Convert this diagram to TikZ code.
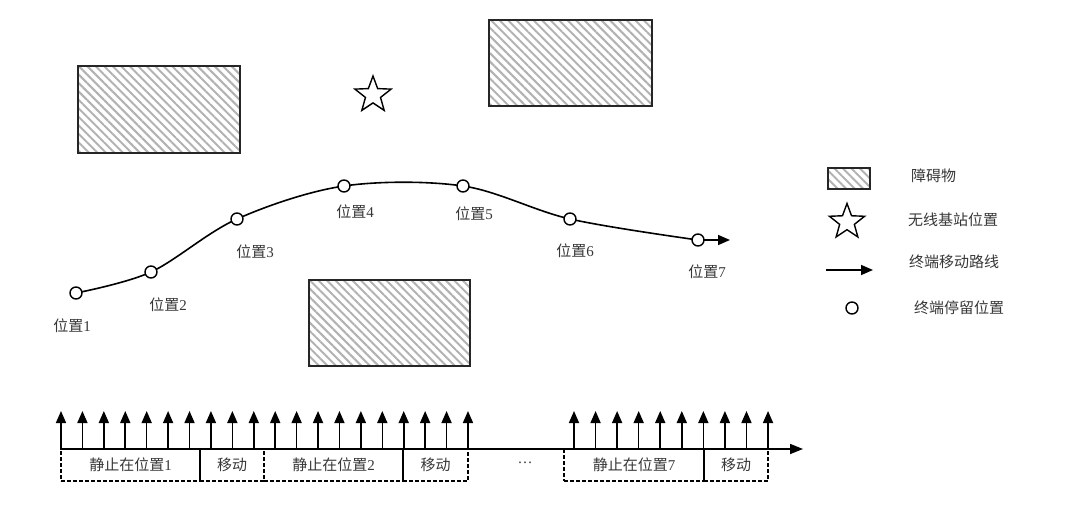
\documentclass[tikz,border=0pt]{standalone}
\usepackage{fontspec}
\setmainfont{Liberation Serif}
\newfontfamily\cjk{Noto Sans CJK SC}
\usepackage{tikz}
\usetikzlibrary{arrows.meta,positioning,shapes.geometric,patterns.meta}
\definecolor{txtgray}{RGB}{55,55,55}

\begin{document}
\begin{tikzpicture}[x=1pt, y=-1pt, font=\fontsize{15}{17}\selectfont]
    \tikzstyle{obst}=[draw=black!85, line width=1.6pt, inner sep=0pt, pattern={Lines[angle=-45, distance=6pt, line width=2pt]}, pattern color=black!30]
    \tikzstyle{stop}=[draw, circle, line width=1.4pt, fill=white, inner sep=0pt, minimum size=12pt]
    \tikzstyle{bs}=[draw, star, star points=5, star point ratio=2.4, line width=1.4pt, inner sep=0pt, minimum size=38pt]
    \tikzstyle{lbl}=[text=txtgray, inner sep=1pt]
    \tikzstyle{seg}=[draw, dash pattern=on 4pt off 2pt, line width=1.2pt, outer sep=0pt, minimum height=32pt, text=txtgray, inner sep=0pt]
    \tikzstyle{tick}=[line width=1.6pt, -{Triangle[length=12pt, width=10pt]}]
    \useasboundingbox (0,0) rectangle (1080,505);

    % obstacles and base station
    \node[obst, minimum width=162pt, minimum height=87pt] (ob1) at (159,109.5) {};
    \node[obst, minimum width=163pt, minimum height=86pt] (ob2) at (570.5,63) {};
    \node[obst, minimum width=161pt, minimum height=86pt] (ob3) at (389.5,323) {};
    \node[bs] (bs) at (373,95) {};

    % terminal route
    \foreach \n/\x/\y in {1/76/293, 2/151/272, 3/237/219, 4/344/186, 5/463/186, 6/570/219, 7/698/240}
        \coordinate (c\n) at (\x,\y);
    \coordinate (end) at (730,240);
    \draw[line width=1.6pt] plot[smooth, tension=0.55] coordinates {(c1) (c2) (c3) (c4) (c5) (c6) (c7)};
    \draw[line width=1.6pt, -{Triangle[length=12pt, width=10pt]}] (c7) -- (end);
    \foreach \n in {1,...,7}
        \node[stop] (p\n) at (c\n) {};
    \foreach \n/\x/\y in {1/72/326, 2/168/305, 3/255/252, 4/355/212, 5/474/214, 6/575/251, 7/707/272}
        \node[lbl] (l\n) at (\x,\y) {{\cjk 位置}\n};

    % legend
    \node[obst, minimum width=42pt, minimum height=21pt] (lg1) at (849,178.5) {};
    \node[bs, minimum size=37pt] (lg2) at (847,222) {};
    \coordinate (lg3a) at (826,270);
    \coordinate (lg3b) at (873,270);
    \draw[line width=1.6pt, -{Triangle[length=12pt, width=10pt]}] (lg3a) -- (lg3b);
    \node[stop] (lg4) at (852,308) {};
    \node[lbl, anchor=west] (lt1) at (910,176) {\cjk 障碍物};
    \node[lbl, anchor=west] (lt2) at (907,220) {\cjk 无线基站位置};
    \node[lbl, anchor=west] (lt3) at (908,262) {\cjk 终端移动路线};
    \node[lbl, anchor=west] (lt4) at (913,308) {\cjk 终端停留位置};

    % sampling time line
    \coordinate (t0) at (60,449);
    \coordinate (t1) at (803,449);
    \draw[line width=1.6pt, -{Triangle[length=13pt, width=10pt]}] (t0) -- (t1);
    \foreach \i in {0,...,19}
        \coordinate (a\i) at (61+\i*21.42,449);
    \foreach \i in {0,...,19}
        \draw[tick] (a\i) -- ++(0,-38);
    \foreach \i in {0,...,9}
        \coordinate (b\i) at (574+\i*21.56,449);
    \foreach \i in {0,...,9}
        \draw[tick] (b\i) -- ++(0,-38);

    \node[seg, anchor=north west, minimum width=139pt] (s1) at (61,449) {{\cjk 静止在位置}1};
    \node[seg, right=0pt of s1, minimum width=64pt] (s2) {\cjk 移动};
    \node[seg, right=0pt of s2, minimum width=139pt] (s3) {{\cjk 静止在位置}2};
    \node[seg, right=0pt of s3, minimum width=65pt] (s4) {\cjk 移动};
    \node[lbl] (dots) at (525,463) {\dots};
    \node[seg, anchor=north west, minimum width=140pt] (s7) at (564,449) {{\cjk 静止在位置}7};
    \node[seg, right=0pt of s7, minimum width=64pt] (s8) {\cjk 移动};
    \draw[line width=1.6pt] (s4.north west) -- (s4.south west);
    \draw[line width=1.6pt] (s8.north west) -- (s8.south west);
  \end{tikzpicture}
\end{document}
